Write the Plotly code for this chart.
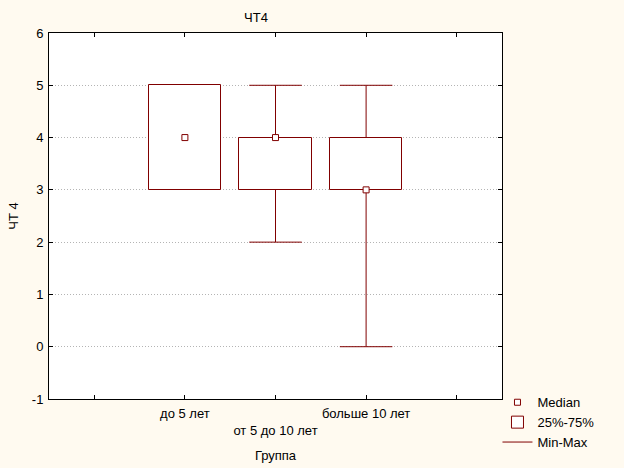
import plotly.graph_objects as go

groups = ["до 5 лет", "от 5 до 10 лет", "больше 10 лет"]
positions = [1, 2, 3]
q1 = [3, 3, 3]
medians = [4, 4, 3]
q3 = [5, 4, 4]
mins = [3, 2, 0]
maxs = [5, 5, 5]
y_ticks = [-1, 0, 1, 2, 3, 4, 5, 6]

RED = "#800000"
BG = "#fffaf0"
BOX_W = 0.8
CAP_W = 0.58


def whisker_path():
    # stems and caps, skipped where the whisker has zero length
    xs, ys = [], []
    for p, lo, a, b, hi in zip(positions, mins, q1, q3, maxs):
        if hi > b:
            xs += [p, p, None, p - CAP_W / 2, p + CAP_W / 2, None]
            ys += [b, hi, None, hi, hi, None]
        if lo < a:
            xs += [p, p, None, p - CAP_W / 2, p + CAP_W / 2, None]
            ys += [a, lo, None, lo, lo, None]
    return xs, ys


fig = go.Figure()

fig.add_trace(go.Bar(
    x=positions, y=[b - a for a, b in zip(q1, q3)], base=q1, width=BOX_W,
    name="25%-75%", marker=dict(color="white", line=dict(color=RED, width=1)),
    legendrank=2))

wx, wy = whisker_path()
fig.add_trace(go.Scatter(
    x=wx, y=wy, mode="lines", name="Min-Max",
    line=dict(color=RED, width=1), legendrank=3))

fig.add_trace(go.Scatter(
    x=positions, y=medians, mode="markers", name="Median",
    marker=dict(symbol="square", size=6, color="white", line=dict(color=RED, width=1)),
    legendrank=1))

ticktext = ["", groups[0], "<br>" + groups[1], groups[2], ""]

fig.update_layout(
    width=624, height=468,
    paper_bgcolor=BG, plot_bgcolor="white",
    margin=dict(l=49, r=122, t=33, b=69, autoexpand=False),
    font=dict(family="Liberation Sans, Arial, sans-serif", size=13, color="black"),
    title=dict(text="ЧТ4", x=256 / 624, xanchor="center", y=1 - 17 / 468, yanchor="middle",
               font=dict(size=13)),
    showlegend=True,
    legend=dict(x=0.99, xanchor="left", y=0.032, yanchor="top", bgcolor="rgba(0,0,0,0)",
                itemwidth=30, font=dict(size=13), tracegroupgap=0),
    bargap=0,
)

fig.update_xaxes(
    range=[-0.5, 4.5], tickvals=[0, 1, 2, 3, 4], ticktext=ticktext,
    ticks="inside", ticklen=4, tickcolor="black", showgrid=False, zeroline=False,
    showline=True, linecolor="black", linewidth=1, mirror="ticks", automargin=False,
    tickfont=dict(size=13), ticklabelstandoff=2,
    title=dict(text="Группа", standoff=14, font=dict(size=13)))

fig.update_yaxes(
    range=[-1, 6], tickvals=y_ticks, ticktext=[str(v) for v in y_ticks],
    ticks="inside", ticklen=4, tickcolor="black", automargin=False,
    showgrid=True, gridcolor="#b4b4b4", griddash="1px,2px", gridwidth=1, zeroline=False,
    showline=True, linecolor="black", linewidth=1, mirror="ticks",
    tickfont=dict(size=13), ticklabelstandoff=2,
    title=dict(text="ЧТ 4", standoff=10, font=dict(size=13)))

fig.write_html(
    "out.html",
    config={"displayModeBar": False},
    post_script="document.body.style.margin='0';document.body.style.background='#fffaf0';")
